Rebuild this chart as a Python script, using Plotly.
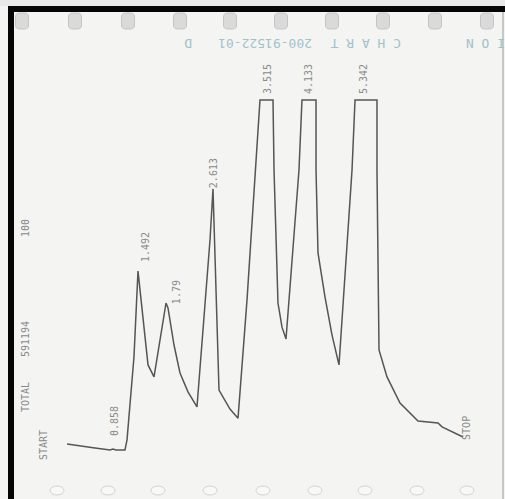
import plotly.graph_objects as go

W, H = 505, 499

# ---- chromatogram trace (time in min, response in % full scale) ----
time_min = [0.217, 0.433, 0.683, 0.933, 0.983, 1.033, 1.183, 1.217, 1.333, 1.400,
            1.500, 1.567, 1.667, 1.767, 1.867, 1.900, 2.000, 2.100, 2.233, 2.383,
            2.600, 2.650, 2.700, 2.750, 2.933, 3.067, 3.217, 3.350, 3.433, 3.650,
            3.667, 3.733, 3.800, 3.867, 4.083, 4.133, 4.367, 4.367, 4.400, 4.517,
            4.633, 4.750, 4.967, 5.017, 5.383, 5.383, 5.417, 5.550, 5.767, 6.067,
            6.400, 6.467, 6.817]
response = [1.7, 1.1, 0.6, 0.0, 0.3, 0.0, 0.0, 2.9, 26.6, 51.1,
            34.3, 24.3, 20.9, 31.4, 42.0, 40.6, 30.0, 22.0, 16.6, 12.3,
            60.0, 74.6, 45.7, 17.1, 11.7, 9.1, 42.9, 80.0, 100.0, 100.0,
            80.0, 42.0, 35.1, 31.7, 80.0, 100.0, 100.0, 80.0, 56.3, 43.7,
            32.9, 24.3, 80.0, 100.0, 100.0, 80.0, 28.6, 20.9, 13.4, 8.3,
            7.7, 6.6, 3.7]

# ---- peak retention-time labels ----
peak_labels = ["0.858", "1.492", "1.79", "2.613", "3.515", "4.133", "5.342", "STOP"]
peak_label_t = [1.017, 1.517, 2.033, 2.650, 3.550, 4.233, 5.150, 6.883]
peak_label_y = [8.3, 58.0, 45.1, 79.1, 106.0, 106.0, 106.0, 6.3]

# ---- header labels printed on the left ----
header_labels = ["START", "TOTAL", "591194", "100"]
header_px = [(43, 445), (25, 397), (25, 339), (25, 228)]

X_RANGE = [-0.9, 7.5167]
Y_RANGE = [-14.0, 128.571]

NB = "\u00a0"

def px(x, y):
    return x / W, 1 - y / H

fig = go.Figure()
fig.add_trace(go.Scatter(x=time_min, y=response, mode="lines",
                         line=dict(color="#555555", width=1.5),
                         hoverinfo="skip", showlegend=False))

shapes = []
# top light strip and black frame
shapes.append(dict(type="rect", xref="paper", yref="paper", x0=0, x1=1,
                   y0=1 - 6 / H, y1=1, fillcolor="#e9e9e9", line_width=0, layer="below"))
shapes.append(dict(type="rect", xref="paper", yref="paper", x0=8 / W, x1=1,
                   y0=1 - 12 / H, y1=1 - 6 / H, fillcolor="#050505", line_width=0))
shapes.append(dict(type="rect", xref="paper", yref="paper", x0=8 / W, x1=14 / W,
                   y0=0, y1=1 - 6 / H, fillcolor="#050505", line_width=0))
shapes.append(dict(type="line", xref="paper", yref="paper", x0=503 / W, x1=503 / W,
                   y0=0, y1=1 - 12 / H, line=dict(color="#9a9a9a", width=1)))

# punched holes along the top (rounded rectangles)
def rrect(cx, top, w, h, r):
    x0, x1 = cx - w / 2, cx + w / 2
    y0, y1 = top, top + h
    def P(x, y):
        a, b = px(x, y)
        return f"{a:.5f},{b:.5f}"
    return (f"M {P(x0 + r, y0)} L {P(x1 - r, y0)} Q {P(x1, y0)} {P(x1, y0 + r)} "
            f"L {P(x1, y1 - r)} Q {P(x1, y1)} {P(x1 - r, y1)} L {P(x0 + r, y1)} "
            f"Q {P(x0, y1)} {P(x0, y1 - r)} L {P(x0, y0 + r)} Q {P(x0, y0)} {P(x0 + r, y0)} Z")

for cx in [22, 75, 128, 180, 230, 281, 332, 383, 435, 487]:
    shapes.append(dict(type="path", xref="paper", yref="paper",
                       path=rrect(cx, 13, 13, 16, 4),
                       fillcolor="#dadada", line=dict(color="#c6c6c6", width=1)))

# faint crescents along the bottom
for cx in [57, 108, 158, 210, 263, 315, 365, 417, 467]:
    a0, b0 = px(cx - 7, 486)
    a1, b1 = px(cx + 7, 495)
    shapes.append(dict(type="circle", xref="paper", yref="paper",
                       x0=a0, x1=a1, y0=b1, y1=b0,
                       fillcolor="#f8f8f8", line=dict(color="#d2d2d2", width=1)))

annotations = []
label_font = dict(family="DejaVu Sans Mono", size=10, color="#8a8a8a")
for txt, t, y in zip(peak_labels, peak_label_t, peak_label_y):
    annotations.append(dict(x=t, y=y, xref="x", yref="y", text=txt, textangle=-90,
                            xanchor="center", yanchor="middle",
                            showarrow=False, font=label_font))
for txt, (hx, hy) in zip(header_labels, header_px):
    a, b = px(hx, hy)
    annotations.append(dict(x=a, y=b, xref="paper", yref="paper", text=txt,
                            textangle=-90, xanchor="center", yanchor="middle",
                            showarrow=False, font=label_font))

# printed chart-paper text (upside down)
blue_font = dict(family="DejaVu Sans Mono", size=13, color="#9fc3cc")
for txt, hx in [(NB.join("CHART"), 366), ("200-91522-01", 265),
                ("D", 188), (NB.join("ION"), 486)]:
    a, b = px(hx, 43)
    annotations.append(dict(x=a, y=b, xref="paper", yref="paper", text=txt,
                            textangle=180, xanchor="center", yanchor="middle",
                            showarrow=False, font=blue_font))

fig.update_layout(
    width=W, height=H,
    margin=dict(l=0, r=0, t=0, b=0),
    paper_bgcolor="#f4f4f2", plot_bgcolor="#f4f4f2",
    xaxis=dict(range=X_RANGE, visible=False, fixedrange=True),
    yaxis=dict(range=Y_RANGE, visible=False, fixedrange=True),
    shapes=shapes, annotations=annotations,
)

fig.write_html("out.html",
               config={"displayModeBar": False},
               post_script="document.body.style.margin='0px';"
                           "document.body.style.background='#f4f4f2';")
